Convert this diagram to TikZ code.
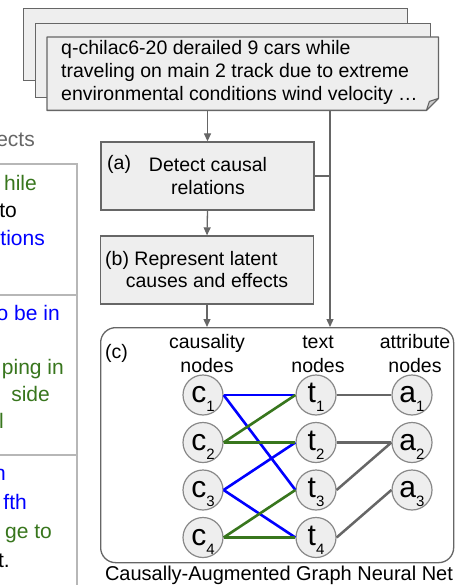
\documentclass[tikz,border=0pt]{standalone}
\usepackage{fontspec}
\setmainfont{Liberation Sans}
\usetikzlibrary{arrows.meta}
\definecolor{boxfill}{HTML}{EEEEEE}
\definecolor{flapfill}{HTML}{CCCCCC}
\definecolor{edgegray}{HTML}{666666}
\definecolor{circgray}{HTML}{888888}
\definecolor{gblue}{HTML}{0000FF}
\definecolor{ggreen}{HTML}{38761D}
\definecolor{tablegray}{HTML}{B7B7B7}
\definecolor{headgray}{HTML}{666666}
\newcommand{\glbl}[2]{{\fontsize{30}{30}\selectfont #1}\raisebox{-9pt}{\fontsize{15}{15}\selectfont #2}}
\begin{document}
\begin{tikzpicture}[x=1pt,y=-1pt,
  doc/.style={draw=edgegray, fill=boxfill, line width=1.3pt, inner sep=0, anchor=north west},
  stepbox/.style={draw=edgegray, fill=boxfill, line width=1.3pt, minimum width=213pt, minimum height=68pt, inner sep=0},
  txt/.style={font=\fontsize{19.5}{23}\selectfont, inner sep=0},
  flow/.style={draw=edgegray, line width=1.3pt, -{Triangle[length=8pt,width=7pt]}},
  plain/.style={draw=edgegray, line width=1.3pt},
  gnode/.style={circle, draw=circgray, fill=boxfill, line width=1.2pt, minimum size=40pt, inner sep=0, text height=15pt, text depth=0pt},
  blueedge/.style={draw=gblue, line width=2.6pt},
  greenedge/.style={draw=ggreen, line width=2.6pt},
  grayedge/.style={draw=edgegray, line width=2.5pt},
  tabline/.style={draw=tablegray, line width=1.5pt},
  tabtxt/.style={font=\fontsize{21}{21}\selectfont, anchor=base east, inner sep=0}
]
\useasboundingbox (0,0) rectangle (462,585);
\fill[white] (0,0) rectangle (462,585);

% ---- left table (cropped) ----
\draw[tabline] (-2,164) -- (77,164) -- (77,588);
\draw[tabline] (-2,295) -- (77,295);
\draw[tabline] (-2,455) -- (77,455);
\node[tabtxt, text=headgray] (tabh) at (35,147) {ects};
\node[tabtxt, text=ggreen] (tab11) at (37,190) {hile};
\node[tabtxt, text=black] (tab12) at (17,217.5) {to};
\node[tabtxt, text=gblue] (tab13) at (45,245) {tions};
\node[tabtxt, text=gblue] (tab21) at (60,320) {o be in};
\node[tabtxt, text=ggreen] (tab22) at (64,374) {ping in};
\node[tabtxt, text=ggreen] (tab23) at (50,401) {side};
\node[tabtxt, text=ggreen] (tab24) at (4,428) {l};
\node[tabtxt, text=gblue] (tab31) at (6,480) {n};
\node[tabtxt, text=gblue] (tab32) at (27,509) {fth};
\node[tabtxt, text=ggreen] (tab33) at (52,538) {ge to};
\node[tabtxt, text=black] (tab34) at (10,567) {t.};

% ---- document stack ----
\node[doc, minimum width=384pt, minimum height=72pt] (docback) at (23,8) {};
\node[doc, minimum width=395pt, minimum height=74pt] (docmid) at (35,23) {};
\node[inner sep=0, minimum width=391pt, minimum height=73pt, anchor=north west] (docfront) at (47,37) {};
\filldraw[draw=edgegray, fill=boxfill, line width=1.3pt, line join=round]
  (docfront.north west) -- (docfront.north east) -- ([yshift=12pt]docfront.south east)
  -- ([xshift=-12pt]docfront.south east) -- (docfront.south west) -- cycle;
\filldraw[draw=edgegray, fill=flapfill, line width=1.1pt, line join=round]
  ([xshift=-12pt]docfront.south east) -- ([xshift=-9pt,yshift=9pt]docfront.south east)
  -- ([yshift=12pt]docfront.south east) -- cycle;
\node[txt, anchor=base west] (doc1) at (61,55) {q-chilac6-20 derailed 9 cars while};
\node[txt, anchor=base west] (doc2) at (61,78) {traveling on main 2 track due to extreme};
\node[txt, anchor=base west] (doc3) at (61,101) {environmental conditions wind velocity \dots};

% ---- step boxes ----
\node[stepbox] (boxa) at (207.5,176) {};
\node[txt, anchor=base west] (lbla) at (107,170) {(a)};
\node[txt, anchor=base] (texta1) at (208,171.5) {Detect causal};
\node[txt, anchor=base] (texta2) at (208,195) {relations};

\node[stepbox] (boxb) at (207,270) {};
\node[txt, anchor=base west] (textb1) at (105,265) {(b) Represent latent};
\node[txt, anchor=base] (textb2) at (207,287.5) {causes and effects};

% ---- graph box ----
\node[draw=edgegray, line width=1.3pt, rounded corners=15pt, minimum width=353pt, minimum height=235pt, inner sep=0, anchor=north west] (gnn) at (100,327) {};
\node[txt, anchor=base west] (lblc) at (105,358) {(c)};
\node[txt, anchor=base] (hc1) at (207,348) {causality};
\node[txt, anchor=base] (hc2) at (207,372) {nodes};
\node[txt, anchor=base] (ht1) at (318,348) {text};
\node[txt, anchor=base] (ht2) at (318,372) {nodes};
\node[txt, anchor=base] (ha1) at (415,348) {attribute};
\node[txt, anchor=base] (ha2) at (415,372) {nodes};

\node[gnode] (c1) at (203,395) {\glbl{c}{1}};
\node[gnode] (c2) at (203,442.5) {\glbl{c}{2}};
\node[gnode] (c3) at (203,490) {\glbl{c}{3}};
\node[gnode] (c4) at (203,537.5) {\glbl{c}{4}};
\node[gnode] (t1) at (316,395) {\glbl{t}{1}};
\node[gnode] (t2) at (316,442.5) {\glbl{t}{2}};
\node[gnode] (t3) at (316,490) {\glbl{t}{3}};
\node[gnode] (t4) at (316,537.5) {\glbl{t}{4}};
\node[gnode] (a1) at (412,395) {\glbl{a}{1}};
\node[gnode] (a2) at (412,442.5) {\glbl{a}{2}};
\node[gnode] (a3) at (412,490) {\glbl{a}{3}};

\draw[blueedge] (c1.east) -- (t1.west);
\draw[blueedge] (c1.east) -- (t3.west);
\draw[blueedge] (c3.east) -- (t2.west);
\draw[blueedge] (c3.east) -- (t4.west);
\draw[greenedge] (c2.east) -- (t1.west);
\draw[greenedge] (c2.east) -- (t2.west);
\draw[greenedge] (c4.east) -- (t3.west);
\draw[greenedge] (c4.east) -- (t4.west);
\draw[grayedge] (t1.east) -- (a1.west);
\draw[grayedge] (t2.east) -- (a2.west);
\draw[grayedge] (t3.east) -- (a2.west);
\draw[grayedge] (t4.east) -- (a3.west);

\node[anchor=base, inner sep=0, font=\fontsize{20}{20}\selectfont] (caption) at (279,580) {Causally-Augmented Graph Neural Net};

% ---- flow connectors ----
\coordinate (rline) at (330,0);
\draw[flow] (docfront.south -| boxa.north) -- (boxa.north);
\draw[flow] (boxa.south) -- (boxb.north);
\draw[flow] (boxb.south) -- (boxb.south |- gnn.north);
\draw[flow] (docfront.south -| rline) -- (gnn.north -| rline);
\draw[plain] (boxa.east) -- (boxa.east -| rline);
\end{tikzpicture}
\end{document}
